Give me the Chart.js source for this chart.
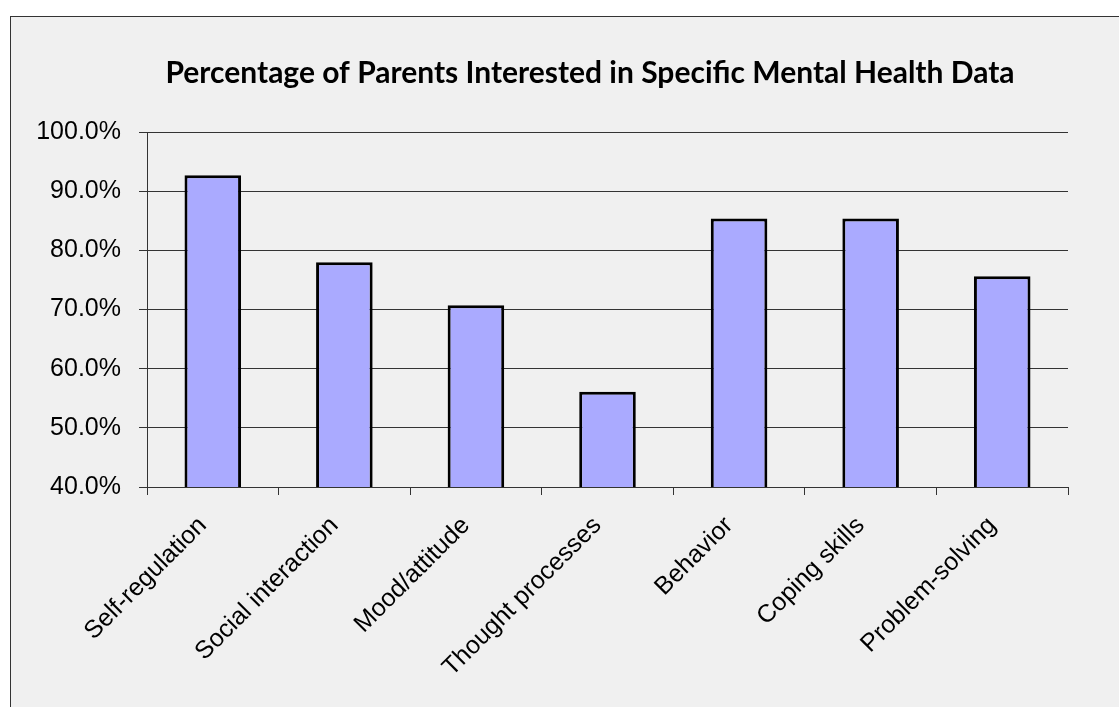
<!DOCTYPE html>
<html>
<head>
<meta charset="utf-8">
<script src="https://cdn.jsdelivr.net/npm/chart.js@4/dist/chart.umd.min.js"></script>
<style>
  html, body { margin: 0; padding: 0; background: #fff; overflow: hidden; }
  .frame {
    position: absolute; left: 10px; top: 16px;
    width: 1130px; height: 720px;
    border: 1px solid #333; background: #f0f0f0;
  }
  canvas { display: block; }
</style>
</head>
<body>
<div class="frame">
  <canvas id="chart" width="1108" height="690"></canvas>
</div>
<script>
const categories = ['Self-regulation', 'Social interaction', 'Mood/attitude', 'Thought processes', 'Behavior', 'Coping skills', 'Problem-solving'];
const percentInterested = [92.7, 78.0, 70.7, 56.1, 85.4, 85.4, 75.6];
const yTicks = [40, 50, 60, 70, 80, 90, 100];

const titleText = 'Percentage of Parents Interested in Specific Mental Health Data';
const tickFont = { family: "'Liberation Sans', Arial, sans-serif", size: 25 };

// title drawn by hand so it can sit a little right of the canvas centre, like the original
const titlePlugin = {
  id: 'offsetTitle',
  afterDraw(chart) {
    const ctx = chart.ctx;
    ctx.save();
    ctx.font = 'bold 30px Lato, sans-serif';
    ctx.fillStyle = '#000';
    ctx.textAlign = 'center';
    ctx.textBaseline = 'alphabetic';
    ctx.fillText(titleText, 579, 66);
    ctx.restore();
  }
};

new Chart(document.getElementById('chart').getContext('2d'), {
  type: 'bar',
  data: {
    labels: categories,
    datasets: [{
      data: percentInterested,
      backgroundColor: '#aaaaff',
      borderColor: '#000',
      borderWidth: 3,
      borderSkipped: false,
      barPercentage: 0.43,
      categoryPercentage: 1
    }]
  },
  options: {
    responsive: false,
    animation: false,
    layout: { padding: { left: 10, right: 51, top: 115, bottom: 0 } },
    plugins: {
      legend: { display: false },
      tooltip: { enabled: false },
      title: { display: false }
    },
    scales: {
      x: {
        grid: { drawOnChartArea: false, drawTicks: true, tickLength: 8, color: '#333', offset: true },
        border: { display: true, color: '#333', width: 1 },
        ticks: { color: '#000', font: tickFont, minRotation: 45, maxRotation: 45, padding: 16, labelOffset: -10, autoSkip: false },
        afterFit: scale => { scale.height = 220; }
      },
      y: {
        min: yTicks[0],
        max: yTicks[yTicks.length - 1],
        afterBuildTicks: scale => { scale.ticks = yTicks.map(v => ({ value: v })); },
        grid: { color: '#333', tickLength: 8 },
        border: { display: true, color: '#333', width: 1 },
        ticks: { color: '#000', font: tickFont, padding: 18, callback: v => v.toFixed(1) + '%' },
        afterFit: scale => { scale.width = 126; }
      }
    }
  },
  plugins: [titlePlugin]
});
</script>
</body>
</html>
